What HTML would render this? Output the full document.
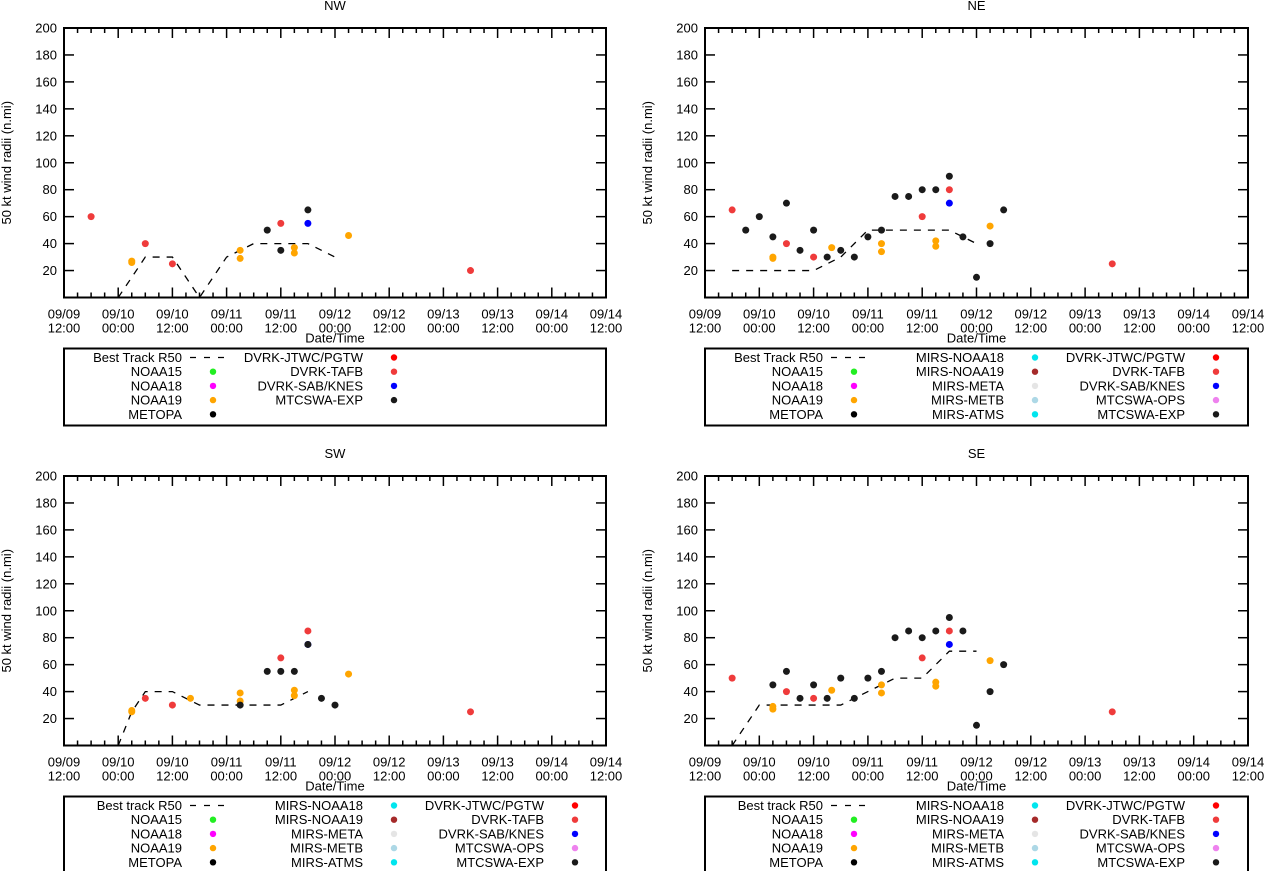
<!DOCTYPE html>
<html><head><meta charset="utf-8"><style>
body{margin:0;background:#fff;width:1267px;height:871px;overflow:hidden}
svg{font-family:"Liberation Sans",sans-serif;font-size:13px}
</style></head><body>
<svg id="chart" width="1267" height="871" viewBox="0 0 1267 871" xmlns="http://www.w3.org/2000/svg"></svg>
<script>
// hours since 09/09 12:00 ; values in n.mi
const xTickLabels = [["09/09","12:00"],["09/10","00:00"],["09/10","12:00"],["09/11","00:00"],["09/11","12:00"],["09/12","00:00"],["09/12","12:00"],["09/13","00:00"],["09/13","12:00"],["09/14","00:00"],["09/14","12:00"]];
const yTicks = [20,40,60,80,100,120,140,160,180,200];

const nwBestH = [12,18,24,30,36,42,48,54,60];
const nwBestV = [0,30,30,0,30,40,40,40,30];
const nwH = [6,15,15,18,24,39,39,45,48,48,51,51,54,54,63,90];
const nwV = [60,27,26,40,25,35,29,50,55,35,37,33,65,55,46,20];
const nwC = ["tafb","n19","n19","tafb","tafb","n19","n19","exp","tafb","exp","n19","n19","exp","sab","n19","tafb"];

const neBestH = [6,12,18,24,30,36,42,48,54,60];
const neBestV = [20,20,20,20,30,50,50,50,50,40];
const neH = [6,9,12,15,15,15,18,18,21,24,24,27,28,30,33,36,39,39,39,42,45,48,48,51,51,51,54,54,54,57,60,63,63,66,90];
const neV = [65,50,60,45,30,29,70,40,35,30,50,30,37,35,30,45,50,40,34,75,75,80,60,80,42,38,90,80,70,45,15,40,53,65,25];
const neC = ["tafb","exp","exp","exp","n19","n19","exp","tafb","exp","tafb","exp","exp","n19","exp","exp","exp","exp","n19","n19","exp","exp","exp","tafb","exp","n19","n19","exp","tafb","sab","exp","exp","exp","n19","exp","tafb"];

const swBestH = [12,15,18,24,30,36,42,48,54];
const swBestV = [0,25,40,40,30,30,30,30,40];
const swH = [15,15,18,24,28,39,39,39,45,48,48,51,51,51,54,54,54,57,60,63,90];
const swV = [26,25,35,30,35,39,33,30,55,55,65,55,41,37,85,75,75,35,30,53,25];
const swC = ["n19","n19","tafb","tafb","n19","n19","n19","exp","exp","exp","tafb","exp","n19","n19","tafb","sab","exp","exp","exp","n19","tafb"];

const seBestH = [6,12,18,24,30,36,42,48,54,60];
const seBestV = [0,30,30,30,30,40,50,50,70,70];
const seH = [6,15,15,15,18,18,21,24,24,27,28,30,33,36,39,39,39,42,45,48,48,51,51,51,54,54,54,57,60,63,63,66,90];
const seV = [50,45,29,27,55,40,35,45,35,35,41,50,35,50,55,45,39,80,85,80,65,85,47,44,95,85,75,85,15,40,63,60,25];
const seC = ["tafb","exp","n19","n19","exp","tafb","exp","exp","tafb","exp","n19","exp","exp","exp","exp","n19","n19","exp","exp","exp","tafb","exp","n19","n19","exp","tafb","sab","exp","exp","exp","n19","exp","tafb"];

const colors = {tafb:"#ef3b3b",n19:"#ffa500",exp:"#1a1a1a",sab:"#0000ff"};
const NS="http://www.w3.org/2000/svg";
const svg=document.getElementById('chart');
function mk(tag,attrs,parent){const e=document.createElementNS(NS,tag);for(const k in attrs)e.setAttribute(k,attrs[k]);(parent||svg).appendChild(e);return e;}

const legendShort=[[["Best Track R50","dash"],["NOAA15","#22ee22"],["NOAA18","#ff00ff"],["NOAA19","#ffa500"],["METOPA","#000"]],
 [["DVRK-JTWC/PGTW","#ff0000"],["DVRK-TAFB","#ef3b3b"],["DVRK-SAB/KNES","#0000ff"],["MTCSWA-EXP","#1a1a1a"]]];
function legendFull(bt){return [[[bt,"dash"],["NOAA15","#22ee22"],["NOAA18","#ff00ff"],["NOAA19","#ffa500"],["METOPA","#000"]],
 [["MIRS-NOAA18","#00e5ee"],["MIRS-NOAA19","#a52a2a"],["MIRS-META","#e5e5e5"],["MIRS-METB","#add8e6"],["MIRS-ATMS","#00e5ee"]],
 [["DVRK-JTWC/PGTW","#ff0000"],["DVRK-TAFB","#ef3b3b"],["DVRK-SAB/KNES","#0000ff"],["MTCSWA-OPS","#ee82ee"],["MTCSWA-EXP","#1a1a1a"]]];}

function panel(name,L,R,top,bot,bH,bV,H,V,C,legend){
  const g=mk('g',{});
  
  
  const xs=h=>L+(R-L)*h/120, ys=v=>bot-(bot-top)*v/200;
  const t=mk('text',{x:(L+R)/2,y:top-18,'text-anchor':'middle'},g);t.textContent=name;
  
  const yx=L-53;
  const yt=mk('text',{x:yx,y:(top+bot)/2,'text-anchor':'middle',transform:`rotate(-90 ${yx} ${(top+bot)/2})`},g);
  yt.textContent='50 kt wind radii (n.mi)';
  
  for(let h=0;h<=120;h+=3){const x=xs(h),len=h%12==0?10:5;
    mk('line',{x1:x,y1:bot,x2:x,y2:bot-len,stroke:'#000','stroke-width':1.5},g);
    mk('line',{x1:x,y1:top,x2:x,y2:top+len,stroke:'#000','stroke-width':1.5},g);}
  xTickLabels.forEach((lb,i)=>{const x=xs(i*12);
    const a=mk('text',{x:x,y:bot+21,'text-anchor':'middle'},g);a.textContent=lb[0];
    
    const b=mk('text',{x:x,y:bot+35,'text-anchor':'middle'},g);b.textContent=lb[1];
    });
  yTicks.forEach(v=>{const y=ys(v);
    mk('line',{x1:L,y1:y,x2:L+10,y2:y,stroke:'#000','stroke-width':1.5},g);
    mk('line',{x1:R,y1:y,x2:R-10,y2:y,stroke:'#000','stroke-width':1.5},g);
    const a=mk('text',{x:L-7,y:y+4.5,'text-anchor':'end'},g);a.textContent=v;
    });
  mk('rect',{x:L,y:top,width:R-L,height:bot-top,fill:'none',stroke:'#000','stroke-width':2},g);
  const xt=mk('text',{x:(L+R)/2,y:bot+45,'text-anchor':'middle'},g);xt.textContent='Date/Time';
  
  const bp=mk('polyline',{points:bH.map((h,i)=>xs(h)+','+ys(bV[i])).join(' '),fill:'none',stroke:'#000','stroke-width':1.3,'stroke-dasharray':'7,7'},g);
  
  H.forEach((h,i)=>{const c=mk('circle',{cx:xs(h),cy:ys(V[i]),r:3.5,fill:colors[C[i]]},g);
    });
  const lt=bot+51, lb=bot+128;
  const lr=mk('rect',{x:L,y:lt,width:R-L,height:lb-lt,fill:'none',stroke:'#000','stroke-width':2},g);
  
  legend.forEach((col,ci)=>col.forEach((e,ri)=>{const y=lt+9+ri*14.2;const tx=L+118+ci*181;
    const a=mk('text',{x:tx,y:y+4.5,'text-anchor':'end'},g);a.textContent=e[0];
    
    if(e[1]=='dash')mk('line',{x1:tx+8,y1:y,x2:tx+46,y2:y,stroke:'#000','stroke-width':1.3,'stroke-dasharray':'6,8'},g);
    else mk('circle',{cx:tx+31,cy:y,r:3.2,fill:e[1]},g);}));
}
panel('NW',64,606,28,297.5,nwBestH,nwBestV,nwH,nwV,nwC,legendShort);
panel('NE',705,1248,28,297.5,neBestH,neBestV,neH,neV,neC,legendFull('Best Track R50'));
panel('SW',64,606,476,745.5,swBestH,swBestV,swH,swV,swC,legendFull('Best track R50'));
panel('SE',705,1248,476,745.5,seBestH,seBestV,seH,seV,seC,legendFull('Best track R50'));
</script>
</body></html>
